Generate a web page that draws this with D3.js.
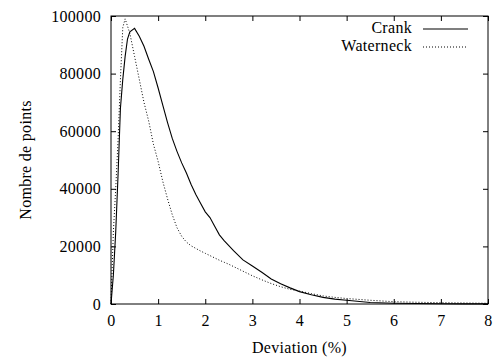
<!DOCTYPE html>
<html>
<head>
<meta charset="utf-8">
<script src="https://cdn.jsdelivr.net/npm/d3@7"></script>
<style>
  body { margin: 0; background: #fff; }
  svg text { font-family: "Liberation Serif", "Times New Roman", serif !important; font-size: 16px !important; letter-spacing: 0.3px; fill: #000; }
</style>
</head>
<body>
<svg width="495" height="360"></svg>
<script>
const width = 495, height = 360;

// deviation (%) sample points
const deviation = [0, 0.05, 0.1, 0.15, 0.2, 0.25, 0.3, 0.35, 0.4, 0.5, 0.6, 0.7, 0.8, 0.9,
  1.0, 1.1, 1.2, 1.3, 1.4, 1.5, 1.6, 1.7, 1.8, 1.9, 2.0, 2.1, 2.2, 2.3, 2.4, 2.5, 2.6,
  2.8, 3.0, 3.2, 3.4, 3.6, 3.8, 4.0, 4.25, 4.5, 4.75, 5.0, 5.5, 6.0, 6.5, 7.0, 7.5, 8.0];

const crank = [0, 10000, 25000, 45000, 68000, 78000, 86000, 92000, 94500, 95700, 93000, 89500,
  85000, 80700, 75000, 69000, 63000, 57500, 53000, 49000, 45500, 41500, 38000, 35000, 32000,
  30000, 27000, 24000, 22000, 20300, 18500, 15300, 13200, 11000, 8700, 7000, 5600, 4300,
  3200, 2300, 1700, 1300, 500, 250, 150, 100, 50, 30];

const waterneck = [0, 25000, 40000, 57000, 78000, 96000, 99000, 96500, 94000, 86000, 78000,
  70000, 63500, 55500, 49500, 42500, 36500, 31000, 26500, 23500, 21500, 20200, 19300, 18400,
  17600, 16800, 16000, 15200, 14500, 13800, 13000, 11400, 9800, 8400, 7100, 6000, 5100, 4500,
  3600, 2800, 2300, 1900, 1300, 800, 600, 450, 350, 250];

const xTicks = [0, 1, 2, 3, 4, 5, 6, 7, 8];
const yTicks = [0, 20000, 40000, 60000, 80000, 100000];
const seriesNames = ["Crank", "Waterneck"];

const margin = {top: 16, right: 7, bottom: 56, left: 111};
const x = d3.scaleLinear().domain([0, 8]).range([margin.left, width - margin.right]);
const y = d3.scaleLinear().domain([0, 100000]).range([height - margin.bottom, margin.top]);

const svg = d3.select("svg");
const tickLen = 5;
const serif = "Liberation Serif";

// axes with inward ticks, mirrored on top / right
svg.append("g")
  .attr("transform", "translate(0," + y(0) + ")")
  .call(d3.axisBottom(x).tickValues(xTicks).tickSize(-tickLen).tickPadding(11).tickFormat(d3.format("d")))
  .call(g => g.select(".domain").remove());
svg.append("g")
  .attr("transform", "translate(0," + y(100000) + ")")
  .call(d3.axisTop(x).tickValues(xTicks).tickSize(-tickLen).tickFormat(""))
  .call(g => g.select(".domain").remove());
svg.append("g")
  .attr("transform", "translate(" + x(0) + ",0)")
  .call(d3.axisLeft(y).tickValues(yTicks).tickSize(-tickLen).tickPadding(10).tickFormat(d3.format("d")))
  .call(g => g.select(".domain").remove());
svg.append("g")
  .attr("transform", "translate(" + x(8) + ",0)")
  .call(d3.axisRight(y).tickValues(yTicks).tickSize(-tickLen).tickFormat(""))
  .call(g => g.select(".domain").remove());

svg.selectAll("g").attr("font-family", serif).attr("font-size", 16);
svg.selectAll(".tick line").attr("stroke", "#000");

svg.append("rect")
  .attr("x", x(0)).attr("y", y(100000))
  .attr("width", x(8) - x(0)).attr("height", y(0) - y(100000))
  .attr("fill", "none").attr("stroke", "#000").attr("stroke-width", 1);

const line = d3.line()
  .x((d, i) => x(deviation[i]))
  .y(d => y(d));

svg.append("path").datum(crank)
  .attr("d", line).attr("fill", "none").attr("stroke", "#000").attr("stroke-width", 1.1);
svg.append("path").datum(waterneck)
  .attr("d", line).attr("fill", "none").attr("stroke", "#000").attr("stroke-width", 1)
  .attr("stroke-dasharray", "1,2");

// legend
const legend = svg.append("g");
seriesNames.forEach((name, i) => {
  const ly = 29 + i * 18;
  legend.append("text").attr("x", 412).attr("y", ly + 4).attr("text-anchor", "end").text(name);
  legend.append("line").attr("x1", 423).attr("x2", 468).attr("y1", ly).attr("y2", ly)
    .attr("stroke", "#000").attr("stroke-width", i ? 1 : 1.1)
    .attr("stroke-dasharray", i ? "1,2" : null);
});

// axis titles
svg.append("text").attr("x", (x(0) + x(8)) / 2).attr("y", 353)
  .attr("text-anchor", "middle").text("Deviation (%)");
svg.append("text")
  .attr("transform", "translate(31," + (y(0) + y(100000)) / 2 + ") rotate(-90)")
  .attr("text-anchor", "middle").text("Nombre de points");
</script>
</body>
</html>
